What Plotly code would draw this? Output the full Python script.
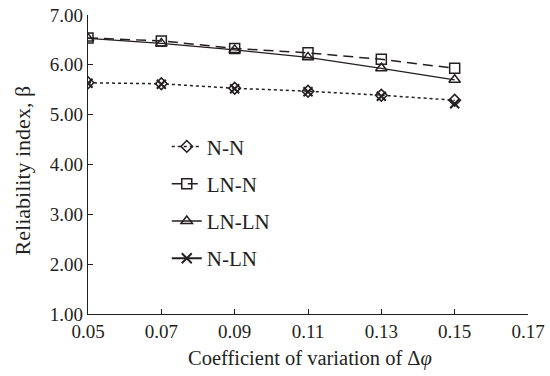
import plotly.graph_objects as go

cov = [0.05, 0.07, 0.09, 0.11, 0.13, 0.15]
beta_NN = [5.64, 5.62, 5.53, 5.47, 5.39, 5.29]
beta_LNN = [6.54, 6.48, 6.33, 6.24, 6.11, 5.93]
beta_LNLN = [6.53, 6.43, 6.30, 6.15, 5.93, 5.70]
beta_NLN = [5.63, 5.61, 5.52, 5.46, 5.37, 5.22]

x_ticks = [0.05, 0.07, 0.09, 0.11, 0.13, 0.15, 0.17]
y_ticks = [1, 2, 3, 4, 5, 6, 7]

ink = "#231f20"
fam = "Liberation Serif, Times New Roman, serif"
tick_font = dict(family=fam, size=19, color=ink)
legend_font = dict(family=fam, size=21, color=ink)
xtitle_font = dict(family=fam, size=20.5, color=ink)
ytitle_font = dict(family=fam, size=22, color=ink)

fig = go.Figure()
fig.add_trace(go.Scatter(x=cov, y=beta_NN, name="N-N", mode="lines+markers",
                         line=dict(color=ink, width=1.5, dash="dot"),
                         marker=dict(symbol="diamond-open", size=9, color=ink, line=dict(width=1.5)),
                         legendgroup="a"))
fig.add_trace(go.Scatter(x=cov, y=beta_LNN, name="LN-N", mode="lines+markers",
                         line=dict(color=ink, width=1.5, dash="10px,6px"),
                         marker=dict(symbol="square-open", size=10, color=ink, line=dict(width=1.5)),
                         legendgroup="b"))
fig.add_trace(go.Scatter(x=cov, y=beta_LNLN, name="LN-LN", mode="lines+markers",
                         line=dict(color=ink, width=1.3),
                         marker=dict(symbol="triangle-up-open", size=10, color=ink, line=dict(width=1.5)),
                         legendgroup="c"))
fig.add_trace(go.Scatter(x=cov, y=beta_NLN, name="N-LN", mode="markers", showlegend=False,
                         marker=dict(symbol="x-thin-open", size=9, color=ink, line=dict(width=2, color=ink)),
                         legendgroup="d"))
fig.add_trace(go.Scatter(x=[None], y=[None], name="N-LN", mode="lines+markers",
                         line=dict(color=ink, width=2),
                         marker=dict(symbol="x-thin-open", size=10, color=ink, line=dict(width=2, color=ink)),
                         legendgroup="d"))

fig.update_layout(
    width=550, height=376,
    margin=dict(l=88, r=22, t=15, b=62, autoexpand=False),
    paper_bgcolor="white", plot_bgcolor="white",
    font=tick_font,
    showlegend=True,
    legend=dict(x=0.179, y=0.628, xanchor="left", yanchor="top",
                bgcolor="rgba(0,0,0,0)", tracegroupgap=7,
                font=legend_font, itemwidth=30),
    xaxis=dict(range=[0.05, 0.17], tickvals=x_ticks, tickformat=".2f", automargin=False,
               showline=True, linecolor=ink, linewidth=1.2, tickfont=tick_font,
               ticks="inside", ticklen=5, tickcolor=ink, tickwidth=1.2,
               ticklabeloverflow="allow", showgrid=False, zeroline=False),
    yaxis=dict(range=[1, 7], tickvals=y_ticks, tickformat=".2f", automargin=False,
               showline=True, linecolor=ink, linewidth=1.2, tickfont=tick_font,
               ticks="inside", ticklen=5, tickcolor=ink, tickwidth=1.2,
               ticklabeloverflow="allow", showgrid=False, zeroline=False),
    annotations=[
        dict(text="Coefficient of variation of Δ<i>φ</i>", xref="paper", yref="paper",
             x=0.505, y=-0.15, xanchor="center", yanchor="middle", showarrow=False, font=xtitle_font),
        dict(text="Reliability index, β", xref="paper", yref="paper", textangle=-90,
             x=-0.15, y=0.477, xanchor="center", yanchor="middle", showarrow=False, font=ytitle_font),
    ],
)

fig.write_html("out.html", config={"displayModeBar": False},
               post_script="document.body.style.margin='0';document.body.style.overflow='hidden';")
